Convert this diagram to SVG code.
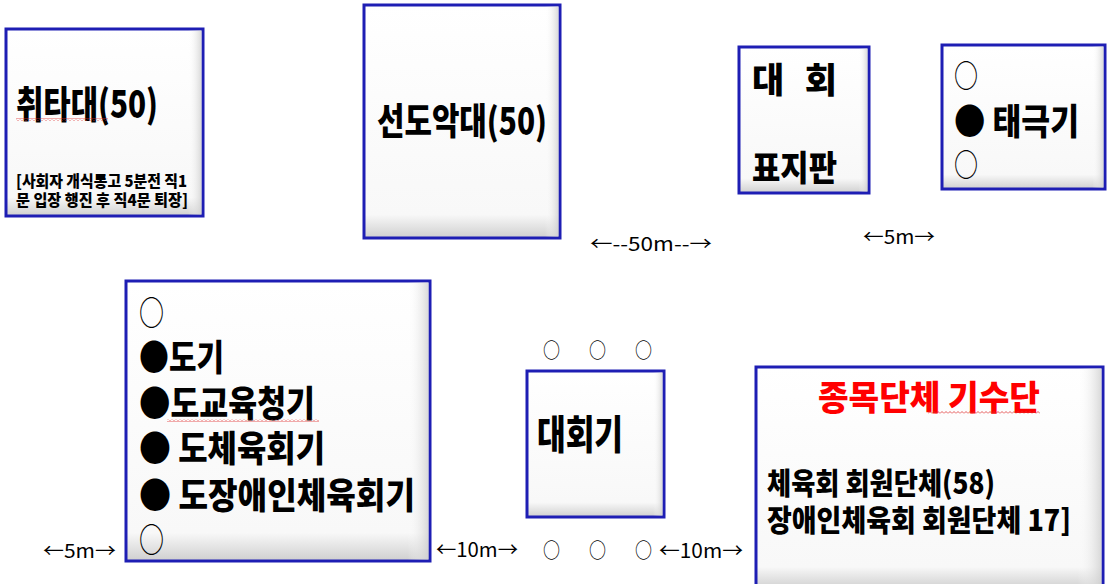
<svg xmlns="http://www.w3.org/2000/svg" width="1109" height="584" viewBox="0 0 1109 584">
<defs>
<linearGradient id="gV" x1="0" y1="0" x2="0" y2="1">
<stop offset="0" stop-color="#ffffff"/>
<stop offset="0.9" stop-color="#f8f8f8"/>
<stop offset="1" stop-color="#cfcfcf"/>
</linearGradient>
<linearGradient id="gH" x1="0" y1="0" x2="1" y2="0">
<stop offset="0" stop-color="#ffffff" stop-opacity="0"/>
<stop offset="0.93" stop-color="#ffffff" stop-opacity="0"/>
<stop offset="1" stop-color="#cfcfcf" stop-opacity="0.8"/>
</linearGradient>
<pattern id="wave" width="4" height="3" patternUnits="userSpaceOnUse">
<path d="M0 2.5 L2 0.5 L4 2.5" fill="none" stroke="#e03030" stroke-width="0.8"/>
</pattern>
</defs>
<style>
.box{fill:url(#gV);stroke:#1e1eb4;stroke-width:3}
.sh{fill:url(#gH);stroke:none}
.t{font-family:"Noto Sans CJK KR","Noto Sans",sans-serif;font-weight:900;fill:#000}
.red{fill:#ff0000}
.d{font-family:"Noto Sans CJK KR","Noto Sans",sans-serif;font-weight:400;fill:#000}
.sq{fill:url(#wave)}
</style>
<rect width="1109" height="584" fill="#ffffff"/>

<g id="node-chwitadae">
<rect class="box" x="6" y="29" width="197" height="187"/>
<rect class="sh" x="7.5" y="30.5" width="194" height="184"/>
<text class="t" x="16" y="118" font-size="38" textLength="142" lengthAdjust="spacingAndGlyphs">취타대(50)</text>
<rect class="sq" x="16" y="118" width="92" height="3"/>
<text class="t" x="16" y="187" font-size="16" textLength="171" lengthAdjust="spacingAndGlyphs">[사회자 개식통고 5분전 직1</text>
<text class="t" x="16" y="206" font-size="16" textLength="172" lengthAdjust="spacingAndGlyphs">문 입장 행진 후 직4문 퇴장]</text>
</g>

<g id="node-seondoakdae">
<rect class="box" x="364" y="5" width="196" height="233"/>
<rect class="sh" x="365.5" y="6.5" width="193" height="230"/>
<text class="t" x="377" y="135" font-size="37" textLength="170" lengthAdjust="spacingAndGlyphs">선도악대(50)</text>
</g>

<g id="node-pyojipan">
<rect class="box" x="739" y="47" width="130" height="146"/>
<rect class="sh" x="740.5" y="48.5" width="127" height="143"/>
<text class="t" x="752" y="93" font-size="35" textLength="85" lengthAdjust="spacing">대 회</text>
<text class="t" x="752" y="181" font-size="35" textLength="85" lengthAdjust="spacingAndGlyphs">표지판</text>
</g>

<g id="node-taegeukgi">
<rect class="box" x="942" y="45" width="163" height="144"/>
<rect class="sh" x="943.5" y="46.5" width="160" height="141"/>
<text class="d" x="954" y="87" font-size="31" textLength="24" lengthAdjust="spacingAndGlyphs">○</text>
<text class="t" x="954" y="135" font-size="36" textLength="125" lengthAdjust="spacingAndGlyphs">● 태극기</text>
<text class="d" x="954" y="176" font-size="31" textLength="24" lengthAdjust="spacingAndGlyphs">○</text>
</g>

<g id="node-dogi">
<rect class="box" x="126" y="281" width="304" height="280"/>
<rect class="sh" x="127.5" y="282.5" width="301" height="277"/>
<text class="d" x="139" y="325" font-size="33" textLength="25" lengthAdjust="spacingAndGlyphs">○</text>
<text class="t" x="139" y="371" font-size="36" textLength="85" lengthAdjust="spacingAndGlyphs">●도기</text>
<text class="t" x="139" y="417" font-size="36" textLength="176" lengthAdjust="spacingAndGlyphs">●도교육청기</text>
<rect class="sq" x="167" y="419" width="152" height="3"/>
<text class="t" x="139" y="462" font-size="36" textLength="186" lengthAdjust="spacingAndGlyphs">● 도체육회기</text>
<text class="t" x="139" y="509" font-size="36" textLength="276" lengthAdjust="spacingAndGlyphs">● 도장애인체육회기</text>
<text class="d" x="139" y="552" font-size="33" textLength="25" lengthAdjust="spacingAndGlyphs">○</text>
</g>

<g id="node-daehoegi">
<rect class="box" x="527" y="371" width="137" height="146"/>
<rect class="sh" x="528.5" y="372.5" width="134" height="143"/>
<text class="t" x="537" y="449" font-size="40" textLength="86" lengthAdjust="spacingAndGlyphs">대회기</text>
</g>

<g id="node-daehoegi-flags">
<text class="d" x="543" y="358" font-size="20" textLength="17" lengthAdjust="spacingAndGlyphs">○</text>
<text class="d" x="589" y="358" font-size="20" textLength="17" lengthAdjust="spacingAndGlyphs">○</text>
<text class="d" x="635" y="358" font-size="20" textLength="17" lengthAdjust="spacingAndGlyphs">○</text>
<text class="d" x="543" y="558" font-size="20" textLength="17" lengthAdjust="spacingAndGlyphs">○</text>
<text class="d" x="589" y="558" font-size="20" textLength="17" lengthAdjust="spacingAndGlyphs">○</text>
<text class="d" x="635" y="558" font-size="20" textLength="17" lengthAdjust="spacingAndGlyphs">○</text>
</g>

<g id="node-jongmok">
<rect class="box" x="756" y="367" width="347" height="222"/>
<rect class="sh" x="757.5" y="368.5" width="344" height="219"/>
<text class="t red" x="818" y="410" font-size="34" textLength="222" lengthAdjust="spacingAndGlyphs">종목단체 기수단</text>
<rect class="sq" x="928" y="411" width="112" height="3"/>
<text class="t" x="767" y="494" font-size="30" textLength="228" lengthAdjust="spacingAndGlyphs">체육회 회원단체(58)</text>
<text class="t" x="767" y="531" font-size="30" textLength="304" lengthAdjust="spacingAndGlyphs">장애인체육회 회원단체 17]</text>
</g>

<g id="connectors">
<text class="d" x="590" y="251" font-size="19" textLength="122" lengthAdjust="spacingAndGlyphs">←--50m--→</text>
<text class="d" x="863" y="244" font-size="19" textLength="72" lengthAdjust="spacingAndGlyphs">←5m→</text>
<text class="d" x="43" y="558" font-size="19" textLength="73" lengthAdjust="spacingAndGlyphs">←5m→</text>
<text class="d" x="436" y="557" font-size="20" textLength="82" lengthAdjust="spacingAndGlyphs">←10m→</text>
<text class="d" x="659" y="558" font-size="20" textLength="84" lengthAdjust="spacingAndGlyphs">←10m→</text>
</g>
</svg>
